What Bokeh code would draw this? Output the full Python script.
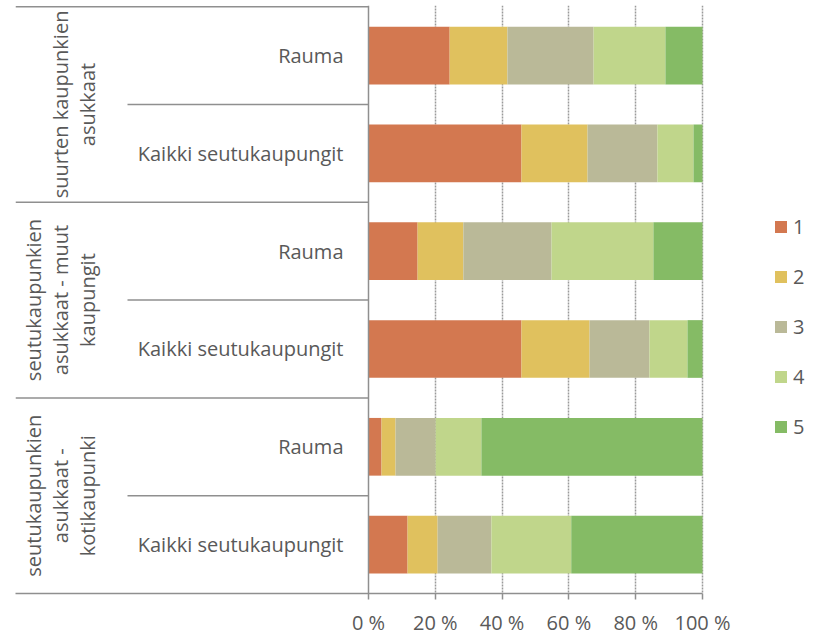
from bokeh.plotting import figure
from bokeh.models import ColumnDataSource, FixedTicker, PrintfTickFormatter, Span, Range1d
from bokeh.core.properties import value
from bokeh.embed import file_html
from bokeh.resources import INLINE
import math

# ---- data ----
groups = ["suurten kaupunkien\nasukkaat",
          "seutukaupunkien\nasukkaat - muut\nkaupungit",
          "seutukaupunkien\nasukkaat -\nkotikaupunki"]
subs = ["Rauma", "Kaikki seutukaupungit"]
series = ["1", "2", "3", "4", "5"]
s1 = [24.3, 45.8, 14.7, 45.8, 3.9, 11.7]
s2 = [17.3, 19.8, 13.7, 20.4, 4.2, 9.0]
s3 = [25.8, 20.9, 26.4, 17.9, 12.0, 16.1]
s4 = [21.5, 10.8, 30.5, 11.4, 13.7, 23.9]
s5 = [11.1, 2.7, 14.7, 4.5, 66.2, 39.3]
ticks = [0, 20, 40, 60, 80, 100]
colors = ["#D37850", "#E0C15E", "#BAB998", "#C0D68B", "#85BB65"]

# ---- layout ----
W, H = 812, 638
left_border = 15
top_border = 5
frame_h = 591
px_per_unit = 3.34
zero_px = 353          # frame px from left where 0 % lies
inner_px = 112         # frame px where sub-category separators start
group_px = 85          # frame px anchor for group labels
x_start = -zero_px / px_per_unit
x_end = x_start + (W - left_border) / px_per_unit
x_inner = x_start + inner_px / px_per_unit
x_group = x_start + group_px / px_per_unit

rows = [(g, s) for g in groups for s in subs]
n = len(rows)
ypos = [i + 0.5 for i in range(n)]
source = ColumnDataSource(dict(y=ypos, **{"1": s1, "2": s2, "3": s3, "4": s4, "5": s5},
                               sub=[s for _, s in rows]))

p = figure(width=W, height=H, output_backend="svg", toolbar_location=None,
           x_range=Range1d(x_start, x_end), y_range=Range1d(n, -0.012),
           y_axis_location=None, min_border_left=left_border, min_border_right=0,
           min_border_top=top_border, min_border_bottom=H - frame_h - top_border)
p.outline_line_color = None
p.background_fill_color = "white"

p.hbar_stack(series, y="y", height=0.59, color=colors, source=source,
             legend_label=series, line_color=None)

# grid
p.ygrid.visible = False
p.xgrid.ticker = FixedTicker(ticks=ticks[1:])
p.xgrid.grid_line_color = "#9a9a9a"
p.xgrid.grid_line_dash = "2 1"
p.xgrid.grid_line_width = 1.5

# x axis
ax = p.xaxis[0]
ax.ticker = FixedTicker(ticks=ticks)
ax.formatter = PrintfTickFormatter(format="%d %%")
ax.bounds = (x_start, 100)
ax.axis_line_color = "#8f8f8f"
ax.axis_line_width = 1.5
ax.major_tick_line_color = "#8f8f8f"
ax.major_tick_line_width = 1.5
ax.major_tick_out = 6
ax.major_tick_in = 0
ax.minor_tick_line_color = None
ax.major_label_standoff = 9
ax.major_label_text_font = "Open Sans"
ax.major_label_text_font_size = "20px"
ax.major_label_text_color = "#595959"

# vertical boundary at 0
p.add_layout(Span(location=0, dimension="height", line_color="#8f8f8f", line_width=1.5))

# separators
outer_y = [2 * i for i in range(len(groups))]
inner_y = [2 * i + 1 for i in range(len(groups))]
p.segment(x0=[x_start] * len(outer_y), x1=[0] * len(outer_y), y0=outer_y, y1=outer_y,
          line_color="#8f8f8f", line_width=1.5)
p.segment(x0=[x_inner] * len(inner_y), x1=[0] * len(inner_y), y0=inner_y, y1=inner_y,
          line_color="#8f8f8f", line_width=1.5)

# sub labels
p.text(x=0, y="y", text="sub", source=source, x_offset=-25, text_align="right",
       text_baseline="middle", text_font=value("Open Sans"), text_font_size="20px",
       text_color="#595959")

# group labels
gsrc = ColumnDataSource(dict(x=[x_group] * len(groups), y=[2 * i + 1 for i in range(len(groups))],
                             t=groups))
p.text(x="x", y="y", text="t", source=gsrc, angle=math.pi / 2, text_align="center",
       text_baseline="bottom", text_font=value("Open Sans"), text_font_size="20px",
       text_color="#595959", text_line_height=1.0)

# legend
lg = p.legend[0]
lg.location = (758, 153)
lg.border_line_color = None
lg.background_fill_alpha = 0
lg.padding = 0
lg.margin = 0
lg.glyph_width = 15
lg.glyph_height = 15
lg.label_standoff = 5
lg.spacing = 23
lg.label_text_font = "Open Sans"
lg.label_text_font_size = "20px"
lg.label_text_color = "#595959"

open("out.html", "w").write(file_html(p, INLINE))
